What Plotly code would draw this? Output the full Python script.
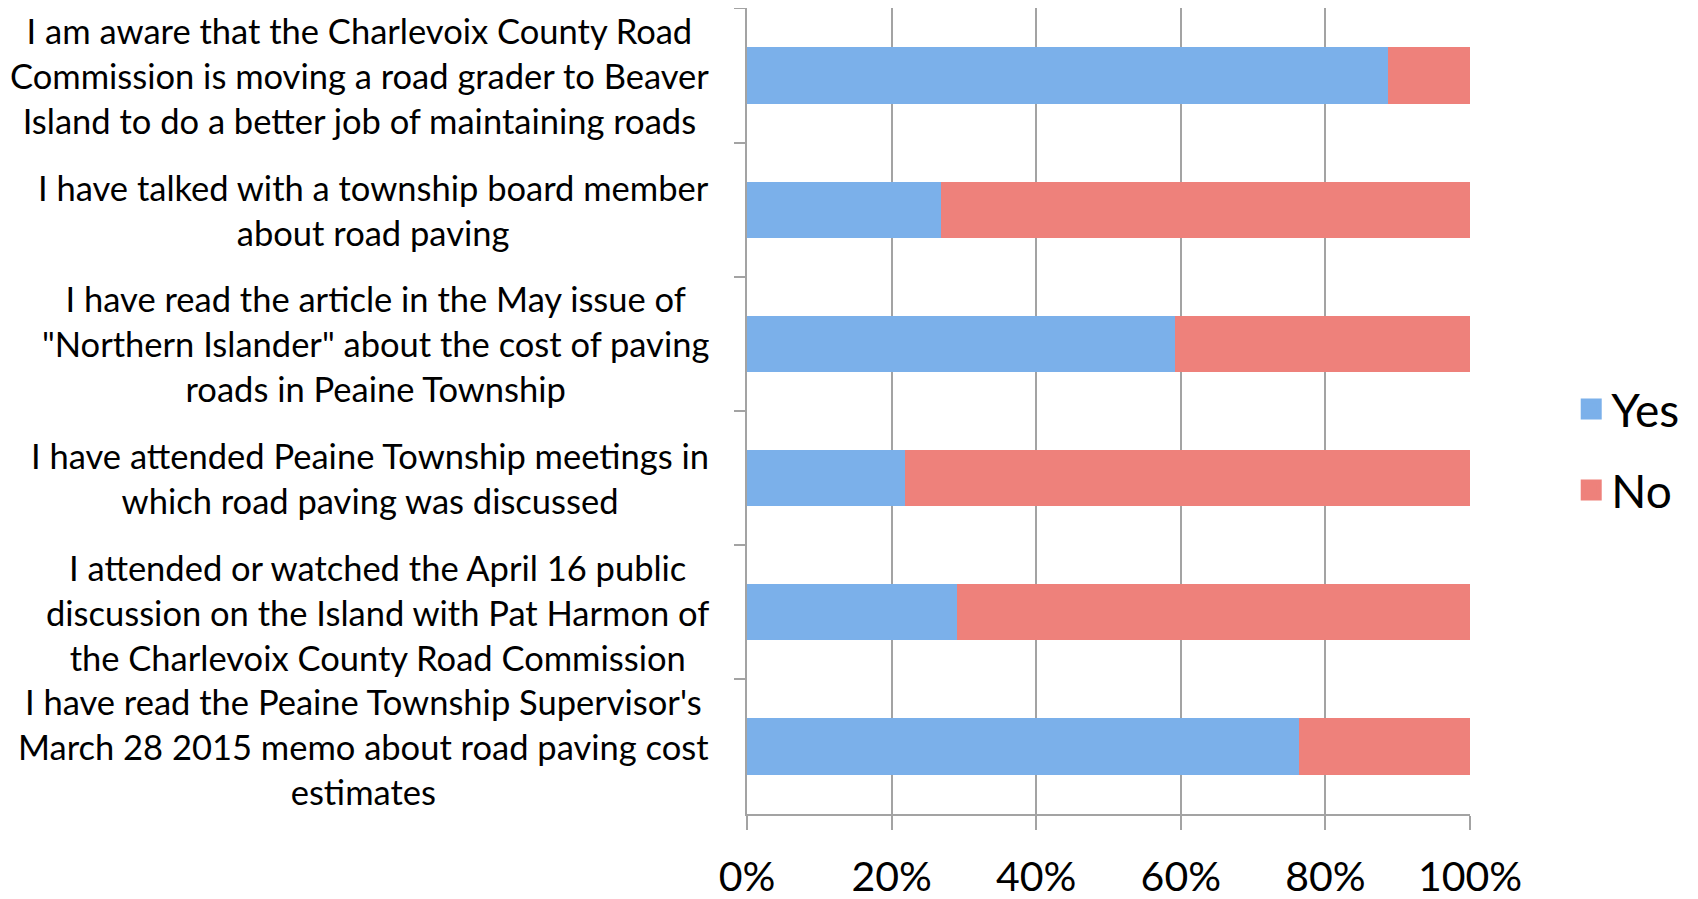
import plotly.graph_objects as go

categories = [
    "I am aware that the Charlevoix County Road<br>Commission is moving a road grader to Beaver<br>Island to do a better job of maintaining roads",
    "I have talked with a township board member<br>about road paving",
    "I have read the article in the May issue of<br>\"Northern Islander\" about the cost of paving<br>roads in Peaine Township",
    "I have attended Peaine Township meetings in<br>which road paving was discussed",
    "I attended or watched the April 16 public<br>discussion on the Island with Pat Harmon of<br>the Charlevoix County Road Commission",
    "I have read the Peaine Township Supervisor's<br>March 28 2015 memo about road paving cost<br>estimates",
]
series_names = ["Yes", "No"]
yes_pct = [88.6, 26.8, 59.2, 21.8, 29.0, 76.3]
no_pct = [11.4, 73.2, 40.8, 78.2, 71.0, 23.7]
x_ticks = [0, 20, 40, 60, 80, 100]
x_tick_labels = ["0%", "20%", "40%", "60%", "80%", "100%"]

FONT = "Lato, Open Sans, sans-serif"
GRID = "#a3a3a3"
COLORS = ["#7bb0ea", "#ee817b"]

fig = go.Figure()
for name, vals, col in zip(series_names, [yes_pct, no_pct], COLORS):
    fig.add_trace(go.Bar(
        y=categories, x=vals, name=name, orientation="h",
        marker=dict(color=col, line=dict(width=0)),
        width=0.42, legendgroup=name, showlegend=False,
    ))
    # legend entry with a larger square swatch
    fig.add_trace(go.Scatter(
        x=[None], y=[None], name=name, mode="markers",
        marker=dict(symbol="square", size=16, color=col,
                    line=dict(color=col, width=5)),
        legendgroup=name, showlegend=True, hoverinfo="skip",
    ))

for cat in categories:
    fig.add_annotation(
        x=-0.05, xref="paper", y=cat, yref="y",
        text=cat, showarrow=False, xanchor="right", yanchor="middle",
        align="center", font=dict(family=FONT, size=34.5, color="#000000"),
    )

fig.update_layout(
    barmode="stack",
    width=1698, height=899,
    margin=dict(l=739, r=236, t=0, b=93, autoexpand=False),
    plot_bgcolor="white", paper_bgcolor="white",
    font=dict(family=FONT, color="#000000"),
    showlegend=True,
    legend=dict(
        x=1.14, xanchor="left", y=0.452, yanchor="middle",
        font=dict(family=FONT, size=46, color="#000000"),
        traceorder="grouped", tracegroupgap=18,
        itemsizing="trace",
        bgcolor="rgba(0,0,0,0)",
    ),
    xaxis=dict(
        range=[0, 100], tickvals=x_ticks, ticktext=x_tick_labels,
        showgrid=True, gridcolor=GRID, gridwidth=1.5,
        showline=True, linecolor=GRID, linewidth=1.5,
        ticks="outside", ticklen=14, tickcolor=GRID, tickwidth=1.5,
        tickfont=dict(family=FONT, size=41, color="#000000"),
        ticklabelstandoff=12, automargin=False,
        zeroline=False, fixedrange=True,
    ),
    yaxis=dict(
        autorange="reversed", showgrid=False,
        showline=True, linecolor=GRID, linewidth=1.5,
        ticks="outside", ticklen=11, tickcolor=GRID, tickwidth=1.5,
        tickson="boundaries", showticklabels=False, automargin=False,
        zeroline=False, fixedrange=True,
    ),
)

fig.write_html("out.html")
